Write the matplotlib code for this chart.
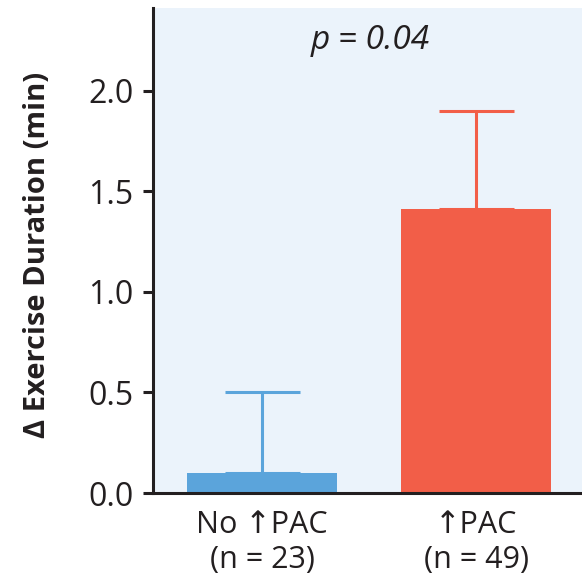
import matplotlib.pyplot as plt
import numpy as np

plt.rcParams['font.family'] = ['Open Sans', 'DejaVu Sans']

groups = ['No \u2191PAC\n(n = 23)', '\u2191PAC\n(n = 49)']
means = [0.10, 1.41]
upper = [0.50, 1.90]
colors = ['#5ba4db', '#f25e48']

dark = '#231f20'

fig = plt.figure(figsize=(5.82, 5.86), dpi=100)
ax = fig.add_axes([153/582, 93/586, 429/582, 485/586])
ax.set_facecolor('#ebf3fb')

x = np.arange(len(groups))
ax.bar(x, means, width=0.70, color=colors, zorder=2)
for xi, m, u, c in zip(x, means, upper, colors):
    ax.errorbar(xi, m, yerr=[[0], [u - m]], fmt='none', ecolor=c,
                elinewidth=2.2, capsize=27, capthick=2.2, zorder=1)

ax.set_xlim(-0.51, 1.495)
ax.set_ylim(0, 2.41)
ax.set_yticks([0, 0.5, 1.0, 1.5, 2.0])
ax.set_yticklabels(['0.0', '0.5', '1.0', '1.5', '2.0'])
ax.set_xticks(x)
ax.set_xticklabels(groups, linespacing=1.22)

for s in ['top', 'right']:
    ax.spines[s].set_visible(False)
for s in ['left', 'bottom']:
    ax.spines[s].set_linewidth(2.2)
    ax.spines[s].set_color(dark)

ax.tick_params(axis='y', length=7, width=2.2, color=dark, labelsize=23,
               labelcolor=dark, pad=7)
ax.tick_params(axis='x', length=0, labelsize=22, labelcolor=dark, pad=12)

ax.set_ylabel('\u0394 Exercise Duration (min)', fontsize=21, fontweight='bold',
              color=dark)
ax.yaxis.set_label_coords(-0.235, 0.49)

ax.text(0.505, 2.25, 'p = 0.04', fontsize=24, style='italic', color=dark,
        ha='center', va='center')

fig.savefig('out.png', dpi=100)
